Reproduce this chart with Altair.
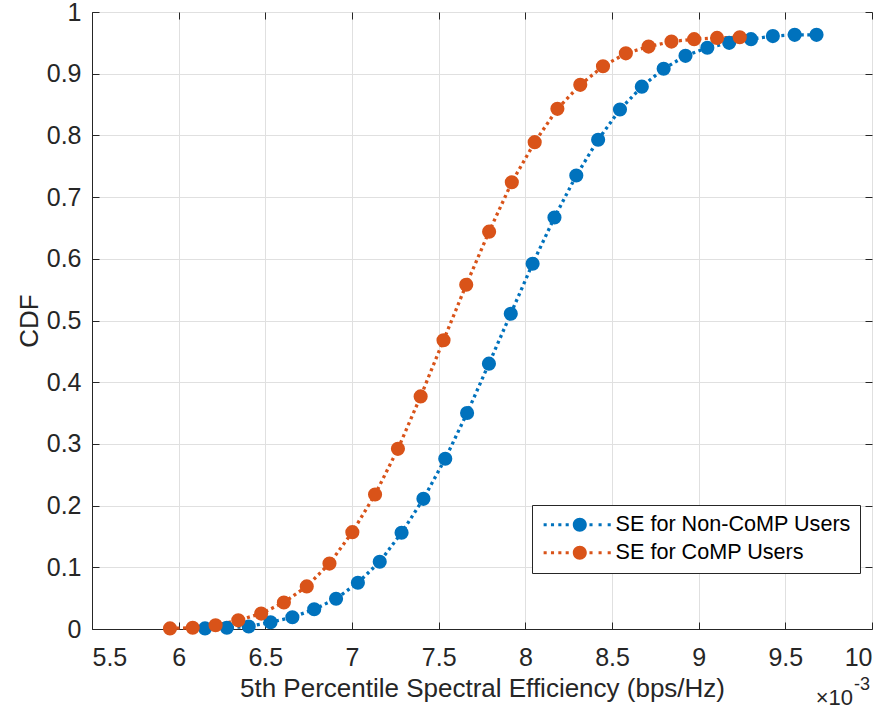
import altair as alt
import pandas as pd

# 5th percentile spectral efficiency (bps/Hz), values in absolute units
noncomp_x = [0.006152, 0.006278, 0.006404, 0.006530, 0.006656, 0.006782, 0.006908, 0.007034,
             0.007160, 0.007286, 0.007412, 0.007538, 0.007664, 0.007790, 0.007916, 0.008042,
             0.008168, 0.008294, 0.008420, 0.008546, 0.008672, 0.008798, 0.008924, 0.009050,
             0.009176, 0.009302, 0.009428, 0.009554, 0.009680]
noncomp_cdf = [0.001, 0.002, 0.004, 0.011, 0.019, 0.032, 0.049, 0.075,
               0.109, 0.156, 0.211, 0.276, 0.350, 0.430, 0.511, 0.592,
               0.667, 0.735, 0.793, 0.842, 0.879, 0.908, 0.929, 0.942,
               0.950, 0.956, 0.961, 0.963, 0.963]

comp_x = [0.005950, 0.006081, 0.006213, 0.006344, 0.006476, 0.006607, 0.006739, 0.006870,
          0.007002, 0.007133, 0.007265, 0.007396, 0.007528, 0.007659, 0.007791, 0.007922,
          0.008054, 0.008185, 0.008317, 0.008448, 0.008580, 0.008711, 0.008843, 0.008974,
          0.009106, 0.009237]
comp_cdf = [0.001, 0.002, 0.006, 0.014, 0.025, 0.043, 0.069, 0.106,
            0.157, 0.218, 0.292, 0.377, 0.468, 0.558, 0.644, 0.724,
            0.789, 0.843, 0.882, 0.912, 0.933, 0.944, 0.952, 0.956,
            0.958, 0.959]

series_names = ["SE for Non-CoMP Users", "SE for CoMP Users"]
series_colors = ["#0072BD", "#D95319"]
x_ticks = [0.0055, 0.006, 0.0065, 0.007, 0.0075, 0.008, 0.0085, 0.009, 0.0095, 0.010]
y_ticks = [0, 0.1, 0.2, 0.3, 0.4, 0.5, 0.6, 0.7, 0.8, 0.9, 1.0]

rows = []
for i, (xv, yv) in enumerate(zip(noncomp_x, noncomp_cdf)):
    rows.append({"se": xv, "cdf": yv, "series": series_names[0], "order": i})
for i, (xv, yv) in enumerate(zip(comp_x, comp_cdf)):
    rows.append({"se": xv, "cdf": yv, "series": series_names[1], "order": i})
df = pd.DataFrame(rows)

W, H = 780, 617
FONT = "Liberation Sans"
DARK = "#262626"
GRID = "#e0e0e0"

xscale = alt.Scale(domain=[0.0055, 0.010], nice=False, zero=False)
yscale = alt.Scale(domain=[0, 1], nice=False, zero=False)
color_scale = alt.Scale(domain=series_names, range=series_colors)


def legend_symbol_path():
    # dotted line segments (small squares) either side of a filled circle,
    # in symbol units (1 unit = 7 px with symbolSize 196)
    parts = []
    hs = 0.22
    for c in [-4.95, -3.9, -2.85, -1.8, 1.6, 2.9, 4.2]:
        parts.append(f"M {c-hs:.2f} {-hs:.2f} L {c+hs:.2f} {-hs:.2f} "
                     f"L {c+hs:.2f} {hs:.2f} L {c-hs:.2f} {hs:.2f} Z")
    parts.append("M -1 0 A 1 1 0 1 1 1 0 A 1 1 0 1 1 -1 0 Z")
    return " ".join(parts)


legend = alt.Legend(
    title=None, orient="none", legendX=440, legendY=493,
    fillColor="white", strokeColor=DARK, padding=9,
    labelFont=FONT, labelFontSize=21.6, labelColor="black", labelLimit=400,
    symbolType=legend_symbol_path(), symbolSize=196, symbolStrokeWidth=0,
    symbolOffset=28, labelOffset=25, rowPadding=5,
)

main_x_axis = alt.Axis(
    orient="bottom", values=x_ticks, grid=True, gridColor=GRID, ticks=False,
    labelExpr="format(datum.value * 1000, '.1~f')", labelPadding=16,
    labelFont=FONT, labelFontSize=25, labelColor=DARK,
    title="5th Percentile Spectral Efficiency (bps/Hz)", titleFont=FONT,
    titleFontSize=26, titleFontWeight="normal", titleColor=DARK,
    titleBaseline="alphabetic", titleY=67.5,
    domainColor=DARK,
)
main_y_axis = alt.Axis(
    orient="left", values=y_ticks, grid=True, gridColor=GRID, ticks=False,
    format=".1~f", labelPadding=11,
    labelFont=FONT, labelFontSize=25, labelColor=DARK,
    title="CDF", titleFont=FONT, titleFontSize=26, titleFontWeight="normal",
    titleColor=DARK, titleBaseline="alphabetic", titleX=-55, titleAngle=270,
    domainColor=DARK,
)


def tick_axis(orient, vals):
    return alt.Axis(orient=orient, values=vals, grid=False, labels=False,
                    domain=False, ticks=True, tickSize=7, tickColor=DARK,
                    offset=-7, title=None)


base = alt.Chart(df)

lines = base.mark_line(strokeWidth=3.3, strokeDash=[3, 3.5]).encode(
    x=alt.X("se:Q", scale=xscale, axis=main_x_axis),
    y=alt.Y("cdf:Q", scale=yscale, axis=main_y_axis),
    color=alt.Color("series:N", scale=color_scale, legend=legend),
    order="order:Q",
)

points = base.mark_point(filled=True, size=200, opacity=1, shape="circle").encode(
    x=alt.X("se:Q", scale=xscale, axis=tick_axis("top", x_ticks)),
    y=alt.Y("cdf:Q", scale=yscale, axis=tick_axis("right", y_ticks)),
    color=alt.Color("series:N", scale=color_scale, legend=legend),
)

ghost = base.mark_point(opacity=0).encode(
    x=alt.X("se:Q", scale=xscale, axis=tick_axis("bottom", x_ticks)),
    y=alt.Y("cdf:Q", scale=yscale, axis=tick_axis("left", y_ticks)),
)

one = alt.Data(values=[{"k": 1}])
mult = alt.Chart(one).mark_text(font=FONT, fontSize=22, color=DARK, align="right",
                                baseline="alphabetic").encode(
    x=alt.value(761), y=alt.value(693), text=alt.value("×10"))
expo = alt.Chart(one).mark_text(font=FONT, fontSize=18, color=DARK, align="left",
                                baseline="alphabetic").encode(
    x=alt.value(762), y=alt.value(678), text=alt.value("-3"))

chart = alt.layer(lines, points, ghost, mult, expo).resolve_axis(
    x="independent", y="independent"
).properties(
    width=W, height=H,
    autosize=alt.AutoSizeParams(type="none"),
    padding={"left": 92, "top": 12, "right": 18, "bottom": 84},
).configure_view(
    stroke=DARK, strokeWidth=1
).configure(background="white")

chart.save("out.html", embed_options={"renderer": "svg", "actions": False})
